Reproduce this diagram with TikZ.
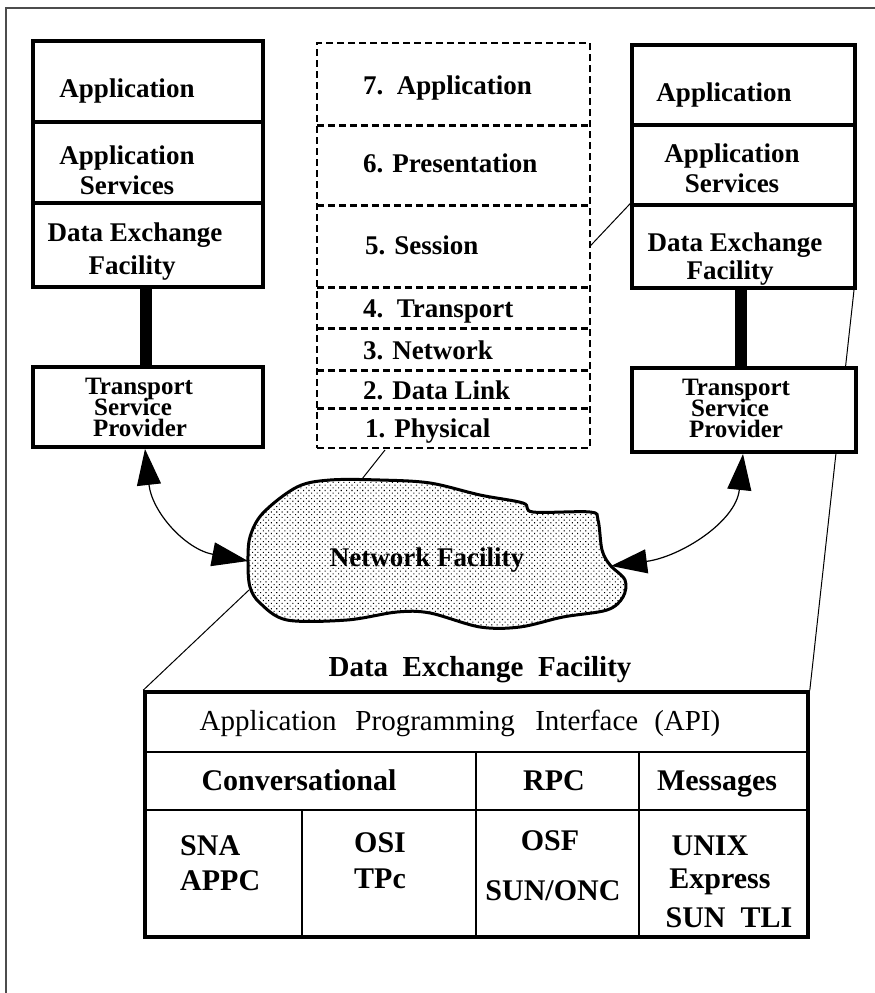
\documentclass[tikz,border=0pt]{standalone}
\usepackage{fontspec}
\setmainfont{Liberation Serif}
\usetikzlibrary{arrows.meta,patterns.meta,fit}
\begin{document}
\begin{tikzpicture}[x=1pt,y=-1pt,
  frame/.style={line width=1.5pt,draw=black!70},
  cell/.style={draw,line width=3.2pt,fill=white,inner sep=0pt},
  tcell/.style={draw,line width=2.8pt,inner sep=0pt},
  dcell/.style={inner sep=0pt},
  dsh/.style={line width=2.6pt,dash pattern=on 7pt off 4pt},
  conn/.style={line width=1pt},
  link/.style={line width=12pt},
  dbl/.style={line width=1.2pt,{Triangle[length=36pt,width=24pt]}-{Triangle[length=36pt,width=24pt]}},
  lb/.style={anchor=base,inner sep=0pt,font=\fontsize{27}{30}\selectfont\bfseries},
  lbs/.style={lb,font=\fontsize{25}{28}\selectfont\bfseries},
  lbw/.style={lb,anchor=base west},
  tb/.style={anchor=base,inner sep=0pt,font=\fontsize{30}{32}\selectfont\bfseries},
  tbw/.style={tb,anchor=base west},
  tr/.style={anchor=base,inner sep=0pt,font=\fontsize{29}{32}\selectfont},
]
\useasboundingbox (0,0) rectangle (875,993);
\fill[white] (0,0) rectangle (875,993);
\draw[frame] (6,993) -- (6,8) -- (875,8);

% ---------- bottom table ----------
\node[tcell,fit={(145,692) (808,752)}] (tAPI) {};
\node[tcell,fit={(145,752) (476,810)}] (tConv) {};
\node[tcell,fit={(476,752) (639,810)}] (tRPC) {};
\node[tcell,fit={(639,752) (808,810)}] (tMsg) {};
\node[tcell,fit={(145,810) (302,937)}] (tSNA) {};
\node[tcell,fit={(302,810) (476,937)}] (tOSI) {};
\node[tcell,fit={(476,810) (639,937)}] (tOSF) {};
\node[tcell,fit={(639,810) (808,937)}] (tUNIX) {};
\node[draw,line width=3.6pt,inner sep=0pt,fit={(145,692) (808,937)}] (tab) {};

% ---------- named coordinates ----------
\coordinate (rdefR) at (856,272);
\coordinate (physA) at (385,450);
\coordinate (cloudT) at (362,479);
\coordinate (cloudL) at (248,561);
\coordinate (cloudR) at (611,566);
\coordinate (cloudLL) at (249,590);
\coordinate (lArrTop) at (145,449);
\coordinate (rArrTop) at (743,454);
\coordinate (lLink) at (146,300);
\coordinate (rLink) at (741,300);

% ---------- thin zoom lines (under the boxes) ----------
\draw[conn] (rdefR) -- (tab.north east);
\draw[conn] (cloudLL) -- (tab.north west);
\draw[conn] (physA) -- (cloudT);

% ---------- left stack ----------
\node[cell,fit={(33,41) (263,122)}] (lA) {};
\node[cell,fit={(33,122) (263,203)}] (lAS) {};
\node[cell,fit={(33,203) (263,287)}] (lDEF) {};
\node[cell,fit={(33,367) (263,447)}] (lTSP) {};
\draw[link] (lDEF.south -| lLink) -- (lTSP.north -| lLink);

% ---------- right stack ----------
\node[cell,fit={(632,45) (855,125)}] (rA) {};
\node[cell,fit={(632,125) (855,205)}] (rAS) {};
\node[cell,fit={(632,205) (855,288)}] (rDEF) {};
\node[cell,fit={(632,368) (856,452)}] (rTSP) {};
\draw[link] (rDEF.south -| rLink) -- (rTSP.north -| rLink);

% ---------- OSI stack (dashed) ----------
\node[dcell,fit={(317,43) (590,125)}] (s7) {};
\node[dcell,fit={(317,125) (590,205)}] (s6) {};
\node[dcell,fit={(317,205) (590,287)}] (s5) {};
\node[dcell,fit={(317,287) (590,328)}] (s4) {};
\node[dcell,fit={(317,328) (590,370)}] (s3) {};
\node[dcell,fit={(317,370) (590,408)}] (s2) {};
\node[dcell,fit={(317,408) (590,448)}] (s1) {};
\node[draw,dsh,inner sep=0pt,fit={(317,43) (590,448)}] (osi) {};
\draw[dsh] (s7.south west) -- (s7.south east);
\draw[dsh] (s6.south west) -- (s6.south east);
\draw[dsh] (s5.south west) -- (s5.south east);
\draw[dsh] (s4.south west) -- (s4.south east);
\draw[dsh] (s3.south west) -- (s3.south east);
\draw[dsh] (s2.south west) -- (s2.south east);
\draw[conn] (s5.east) -- (rDEF.north west);

% ---------- cloud ----------
\draw[line width=3pt,fill=white] plot[smooth cycle,tension=0.55] coordinates {
 (248,563) (250,537) (263,513) (297,487) (330,480) (380,480) (430,483)
 (480,495) (523,503) (533,512) (590,512) (598,520) (602,550) (610,565)
 (625,580) (623,597) (607,610) (563,617) (520,627) (480,627) (430,613)
 (397,612) (347,620) (287,620) (260,603) (250,587)};
\path[pattern={Dots[angle=45,distance=3.8pt,radius=0.75pt]}] plot[smooth cycle,tension=0.55] coordinates {
 (248,563) (250,537) (263,513) (297,487) (330,480) (380,480) (430,483)
 (480,495) (523,503) (533,512) (590,512) (598,520) (602,550) (610,565)
 (625,580) (623,597) (607,610) (563,617) (520,627) (480,627) (430,613)
 (397,612) (347,620) (287,620) (260,603) (250,587)};

% ---------- arrows ----------
\draw[dbl] (lArrTop) .. controls (152,512) and (185,549) .. (cloudL);
\draw[dbl] (rArrTop) .. controls (736,522) and (680,557) .. (cloudR);

% ---------- texts: left stack ----------
\node[lb] (lA1) at (127,97) {Application};
\node[lb] (lAS1) at (127,164) {Application};
\node[lb] (lAS2) at (127,194) {Services};
\node[lb] (lDEF1) at (135,241) {Data Exchange};
\node[lb] (lDEF2) at (132,274) {Facility};
\node[lbs] (lTSP1) at (139,394) {Transport};
\node[lbs] (lTSP2) at (133,415) {Service};
\node[lbs] (lTSP3) at (140,436) {Provider};

% ---------- texts: right stack ----------
\node[lb] (rA1) at (724,101) {Application};
\node[lb] (rAS1) at (732,162) {Application};
\node[lb] (rAS2) at (732,192) {Services};
\node[lb] (rDEF1) at (735,251) {Data Exchange};
\node[lb] (rDEF2) at (730,279) {Facility};
\node[lbs] (rTSP1) at (736,395) {Transport};
\node[lbs] (rTSP2) at (730,416) {Service};
\node[lbs] (rTSP3) at (736,437) {Provider};

% ---------- texts: OSI stack ----------
\node[lbw] (t7) at (363,94) {7.~~Application};
\node[lbw] (t6) at (363,172) {6. Presentation};
\node[lbw] (t5) at (365,254) {5. Session};
\node[lbw] (t4) at (363,317) {4.~~Transport};
\node[lbw] (t3) at (363,359) {3. Network};
\node[lbw] (t2) at (363,399) {2. Data Link};
\node[lbw] (t1) at (365,437) {1. Physical};

% ---------- cloud text ----------
\node[lb] (nf) at (427,566) {Network Facility};

% ---------- table texts ----------
\node[tb,font=\fontsize{29}{32}\selectfont\bfseries] (title) at (480,676) {Data~~Exchange~~Facility};
\node[tr] (api) at (460,730) {Application\hspace{0.65em}Programming\hspace{0.7em}Interface\hspace{0.55em}(API)};
\node[tb] (conv) at (299,790) {Conversational};
\node[tb] (rpc) at (554,790) {RPC};
\node[tb] (msg) at (717,790) {Messages};
\node[tbw] (sna) at (180,855) {SNA};
\node[tbw] (appc) at (180,890) {APPC};
\node[tbw] (osi1) at (354,852) {OSI};
\node[tbw] (tpc) at (354,888) {TPc};
\node[tb] (osf) at (550,850) {OSF};
\node[tb] (sunonc) at (553,900) {SUN/ONC};
\node[tb] (unix) at (710,855) {UNIX};
\node[tb] (express) at (720,888) {Express};
\node[tb] (suntli) at (729,927) {SUN~~TLI};
\end{tikzpicture}
\end{document}
